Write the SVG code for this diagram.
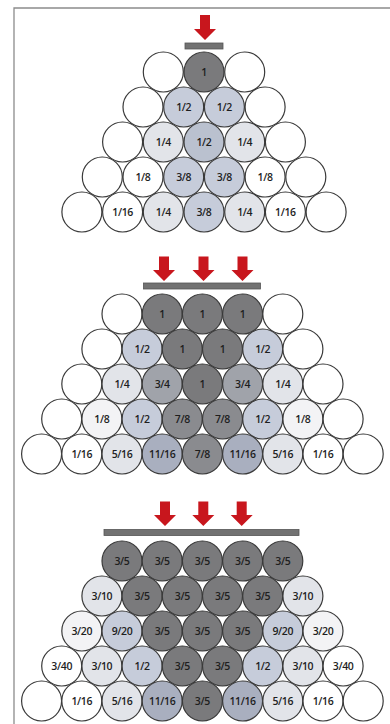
<svg xmlns="http://www.w3.org/2000/svg" width="390" height="724" viewBox="0 0 390 724">
  <style>
    .frame { fill: none; stroke: #8c8c8c; stroke-width: 1.3; }
    .n circle { stroke: #3a3a3a; stroke-width: 1.2; }
    .n text { font-family: "Open Sans", "Liberation Sans", sans-serif; font-weight: 600; font-size: 10.5px; fill: #1e1e1e; text-anchor: middle; letter-spacing: -0.35px; }
    .w { fill: #ffffff; }
    .f1 { fill: #f3f3f5; }
    .f2 { fill: #e2e4e9; }
    .f3 { fill: #c6ccda; }
    .f3b { fill: #bac1cf; }
    .f4 { fill: #a9afbf; }
    .f5 { fill: #a0a3aa; }
    .f6 { fill: #8a8b8f; }
    .f7 { fill: #7a7a7c; }
    .arrow { fill: #c8161d; }
    .bar { fill: #727272; stroke: #555; stroke-width: 0.8; }
  </style>

  <!-- page edge -->
  <path class="frame" d="M14,724 V8 H390"/>

  <!-- ===== Panel 1: single load on the top ball ===== -->
  <g id="load-1">
    <path class="arrow" d="M200,15 h10 v14 h6 l-11,11 l-11,-11 h6 z"/>
    <rect class="bar" x="185" y="43" width="38" height="6"/>
  </g>
  <g id="pile-1">
    <g id="p1-r1-1" class="n"><circle class="w" cx="163.3" cy="72" r="20"/></g>
    <g id="p1-r1-2" class="n"><circle class="f7" cx="204" cy="72" r="20"/><text x="204" y="75.7">1</text></g>
    <g id="p1-r1-3" class="n"><circle class="w" cx="244.7" cy="72" r="20"/></g>

    <g id="p1-r2-1" class="n"><circle class="w" cx="143" cy="107" r="20"/></g>
    <g id="p1-r2-2" class="n"><circle class="f3" cx="183.7" cy="107" r="20"/><text x="183.7" y="110.7">1/2</text></g>
    <g id="p1-r2-3" class="n"><circle class="f3" cx="224.4" cy="107" r="20"/><text x="224.4" y="110.7">1/2</text></g>
    <g id="p1-r2-4" class="n"><circle class="w" cx="265.1" cy="107" r="20"/></g>

    <g id="p1-r3-1" class="n"><circle class="w" cx="122.6" cy="142" r="20"/></g>
    <g id="p1-r3-2" class="n"><circle class="f2" cx="163.3" cy="142" r="20"/><text x="163.3" y="145.7">1/4</text></g>
    <g id="p1-r3-3" class="n"><circle class="f3b" cx="204" cy="142" r="20"/><text x="204" y="145.7">1/2</text></g>
    <g id="p1-r3-4" class="n"><circle class="f2" cx="244.7" cy="142" r="20"/><text x="244.7" y="145.7">1/4</text></g>
    <g id="p1-r3-5" class="n"><circle class="w" cx="285.4" cy="142" r="20"/></g>

    <g id="p1-r4-1" class="n"><circle class="w" cx="102.3" cy="177" r="20"/></g>
    <g id="p1-r4-2" class="n"><circle class="w" cx="143" cy="177" r="20"/><text x="143" y="180.7">1/8</text></g>
    <g id="p1-r4-3" class="n"><circle class="f3" cx="183.7" cy="177" r="20"/><text x="183.7" y="180.7">3/8</text></g>
    <g id="p1-r4-4" class="n"><circle class="f3" cx="224.4" cy="177" r="20"/><text x="224.4" y="180.7">3/8</text></g>
    <g id="p1-r4-5" class="n"><circle class="w" cx="265.1" cy="177" r="20"/><text x="265.1" y="180.7">1/8</text></g>
    <g id="p1-r4-6" class="n"><circle class="w" cx="305.8" cy="177" r="20"/></g>

    <g id="p1-r5-1" class="n"><circle class="w" cx="81.9" cy="212" r="20"/></g>
    <g id="p1-r5-2" class="n"><circle class="w" cx="122.6" cy="212" r="20"/><text x="122.6" y="215.7">1/16</text></g>
    <g id="p1-r5-3" class="n"><circle class="f2" cx="163.3" cy="212" r="20"/><text x="163.3" y="215.7">1/4</text></g>
    <g id="p1-r5-4" class="n"><circle class="f3" cx="204" cy="212" r="20"/><text x="204" y="215.7">3/8</text></g>
    <g id="p1-r5-5" class="n"><circle class="f2" cx="244.7" cy="212" r="20"/><text x="244.7" y="215.7">1/4</text></g>
    <g id="p1-r5-6" class="n"><circle class="w" cx="285.4" cy="212" r="20"/><text x="285.4" y="215.7">1/16</text></g>
    <g id="p1-r5-7" class="n"><circle class="w" cx="326.1" cy="212" r="20"/></g>
  </g>

  <!-- ===== Panel 2: load spread over three balls ===== -->
  <g id="load-2">
    <path class="arrow" d="M159,256.5 h10 v13.5 h6 l-11,11 l-11,-11 h6 z"/>
    <path class="arrow" d="M198.5,256.5 h10 v13.5 h6 l-11,11 l-11,-11 h6 z"/>
    <path class="arrow" d="M237.5,256.5 h10 v13.5 h6 l-11,11 l-11,-11 h6 z"/>
    <rect class="bar" x="143.5" y="283" width="117" height="6"/>
  </g>
  <g id="pile-2">
    <g id="p2-r1-1" class="n"><circle class="w" cx="122" cy="314" r="20"/></g>
    <g id="p2-r1-2" class="n"><circle class="f7" cx="162.2" cy="314" r="20"/><text x="162.2" y="317.7">1</text></g>
    <g id="p2-r1-3" class="n"><circle class="f7" cx="202.4" cy="314" r="20"/><text x="202.4" y="317.7">1</text></g>
    <g id="p2-r1-4" class="n"><circle class="f7" cx="242.6" cy="314" r="20"/><text x="242.6" y="317.7">1</text></g>
    <g id="p2-r1-5" class="n"><circle class="w" cx="282.8" cy="314" r="20"/></g>

    <g id="p2-r2-1" class="n"><circle class="w" cx="101.9" cy="349" r="20"/></g>
    <g id="p2-r2-2" class="n"><circle class="f3" cx="142.1" cy="349" r="20"/><text x="142.1" y="352.7">1/2</text></g>
    <g id="p2-r2-3" class="n"><circle class="f7" cx="182.3" cy="349" r="20"/><text x="182.3" y="352.7">1</text></g>
    <g id="p2-r2-4" class="n"><circle class="f7" cx="222.5" cy="349" r="20"/><text x="222.5" y="352.7">1</text></g>
    <g id="p2-r2-5" class="n"><circle class="f3" cx="262.7" cy="349" r="20"/><text x="262.7" y="352.7">1/2</text></g>
    <g id="p2-r2-6" class="n"><circle class="w" cx="302.9" cy="349" r="20"/></g>

    <g id="p2-r3-1" class="n"><circle class="w" cx="81.8" cy="384" r="20"/></g>
    <g id="p2-r3-2" class="n"><circle class="f2" cx="122" cy="384" r="20"/><text x="122" y="387.7">1/4</text></g>
    <g id="p2-r3-3" class="n"><circle class="f5" cx="162.2" cy="384" r="20"/><text x="162.2" y="387.7">3/4</text></g>
    <g id="p2-r3-4" class="n"><circle class="f7" cx="202.4" cy="384" r="20"/><text x="202.4" y="387.7">1</text></g>
    <g id="p2-r3-5" class="n"><circle class="f5" cx="242.6" cy="384" r="20"/><text x="242.6" y="387.7">3/4</text></g>
    <g id="p2-r3-6" class="n"><circle class="f2" cx="282.8" cy="384" r="20"/><text x="282.8" y="387.7">1/4</text></g>
    <g id="p2-r3-7" class="n"><circle class="w" cx="323" cy="384" r="20"/></g>

    <g id="p2-r4-1" class="n"><circle class="w" cx="61.7" cy="419" r="20"/></g>
    <g id="p2-r4-2" class="n"><circle class="f1" cx="101.9" cy="419" r="20"/><text x="101.9" y="422.7">1/8</text></g>
    <g id="p2-r4-3" class="n"><circle class="f3" cx="142.1" cy="419" r="20"/><text x="142.1" y="422.7">1/2</text></g>
    <g id="p2-r4-4" class="n"><circle class="f6" cx="182.3" cy="419" r="20"/><text x="182.3" y="422.7">7/8</text></g>
    <g id="p2-r4-5" class="n"><circle class="f6" cx="222.5" cy="419" r="20"/><text x="222.5" y="422.7">7/8</text></g>
    <g id="p2-r4-6" class="n"><circle class="f3" cx="262.7" cy="419" r="20"/><text x="262.7" y="422.7">1/2</text></g>
    <g id="p2-r4-7" class="n"><circle class="f1" cx="302.9" cy="419" r="20"/><text x="302.9" y="422.7">1/8</text></g>
    <g id="p2-r4-8" class="n"><circle class="w" cx="343.1" cy="419" r="20"/></g>

    <g id="p2-r5-1" class="n"><circle class="w" cx="41.6" cy="454" r="20"/></g>
    <g id="p2-r5-2" class="n"><circle class="w" cx="81.8" cy="454" r="20"/><text x="81.8" y="457.7">1/16</text></g>
    <g id="p2-r5-3" class="n"><circle class="f2" cx="122" cy="454" r="20"/><text x="122" y="457.7">5/16</text></g>
    <g id="p2-r5-4" class="n"><circle class="f4" cx="162.2" cy="454" r="20"/><text x="162.2" y="457.7">11/16</text></g>
    <g id="p2-r5-5" class="n"><circle class="f6" cx="202.4" cy="454" r="20"/><text x="202.4" y="457.7">7/8</text></g>
    <g id="p2-r5-6" class="n"><circle class="f4" cx="242.6" cy="454" r="20"/><text x="242.6" y="457.7">11/16</text></g>
    <g id="p2-r5-7" class="n"><circle class="f2" cx="282.8" cy="454" r="20"/><text x="282.8" y="457.7">5/16</text></g>
    <g id="p2-r5-8" class="n"><circle class="w" cx="323" cy="454" r="20"/><text x="323" y="457.7">1/16</text></g>
    <g id="p2-r5-9" class="n"><circle class="w" cx="363.2" cy="454" r="20"/></g>
  </g>

  <!-- ===== Panel 3: wide plate over five balls ===== -->
  <g id="load-3">
    <path class="arrow" d="M160,501.5 h10 v13.5 h6 l-11,11 l-11,-11 h6 z"/>
    <path class="arrow" d="M198.3,501.5 h10 v13.5 h6 l-11,11 l-11,-11 h6 z"/>
    <path class="arrow" d="M236.7,501.5 h10 v13.5 h6 l-11,11 l-11,-11 h6 z"/>
    <rect class="bar" x="104" y="529.5" width="195" height="6"/>
  </g>
  <g id="pile-3">
    <g id="p3-r1-1" class="n"><circle class="f7" cx="122" cy="561" r="20"/><text x="122" y="564.7">3/5</text></g>
    <g id="p3-r1-2" class="n"><circle class="f7" cx="162.2" cy="561" r="20"/><text x="162.2" y="564.7">3/5</text></g>
    <g id="p3-r1-3" class="n"><circle class="f7" cx="202.4" cy="561" r="20"/><text x="202.4" y="564.7">3/5</text></g>
    <g id="p3-r1-4" class="n"><circle class="f7" cx="242.6" cy="561" r="20"/><text x="242.6" y="564.7">3/5</text></g>
    <g id="p3-r1-5" class="n"><circle class="f7" cx="282.8" cy="561" r="20"/><text x="282.8" y="564.7">3/5</text></g>

    <g id="p3-r2-1" class="n"><circle class="f2" cx="101.9" cy="596" r="20"/><text x="101.9" y="599.7">3/10</text></g>
    <g id="p3-r2-2" class="n"><circle class="f7" cx="142.1" cy="596" r="20"/><text x="142.1" y="599.7">3/5</text></g>
    <g id="p3-r2-3" class="n"><circle class="f7" cx="182.3" cy="596" r="20"/><text x="182.3" y="599.7">3/5</text></g>
    <g id="p3-r2-4" class="n"><circle class="f7" cx="222.5" cy="596" r="20"/><text x="222.5" y="599.7">3/5</text></g>
    <g id="p3-r2-5" class="n"><circle class="f7" cx="262.7" cy="596" r="20"/><text x="262.7" y="599.7">3/5</text></g>
    <g id="p3-r2-6" class="n"><circle class="f2" cx="302.9" cy="596" r="20"/><text x="302.9" y="599.7">3/10</text></g>

    <g id="p3-r3-1" class="n"><circle class="f1" cx="81.8" cy="631" r="20"/><text x="81.8" y="634.7">3/20</text></g>
    <g id="p3-r3-2" class="n"><circle class="f3" cx="122" cy="631" r="20"/><text x="122" y="634.7">9/20</text></g>
    <g id="p3-r3-3" class="n"><circle class="f7" cx="162.2" cy="631" r="20"/><text x="162.2" y="634.7">3/5</text></g>
    <g id="p3-r3-4" class="n"><circle class="f7" cx="202.4" cy="631" r="20"/><text x="202.4" y="634.7">3/5</text></g>
    <g id="p3-r3-5" class="n"><circle class="f7" cx="242.6" cy="631" r="20"/><text x="242.6" y="634.7">3/5</text></g>
    <g id="p3-r3-6" class="n"><circle class="f3" cx="282.8" cy="631" r="20"/><text x="282.8" y="634.7">9/20</text></g>
    <g id="p3-r3-7" class="n"><circle class="f1" cx="323" cy="631" r="20"/><text x="323" y="634.7">3/20</text></g>

    <g id="p3-r4-1" class="n"><circle class="w" cx="61.7" cy="666" r="20"/><text x="61.7" y="669.7">3/40</text></g>
    <g id="p3-r4-2" class="n"><circle class="f2" cx="101.9" cy="666" r="20"/><text x="101.9" y="669.7">3/10</text></g>
    <g id="p3-r4-3" class="n"><circle class="f3" cx="142.1" cy="666" r="20"/><text x="142.1" y="669.7">1/2</text></g>
    <g id="p3-r4-4" class="n"><circle class="f7" cx="182.3" cy="666" r="20"/><text x="182.3" y="669.7">3/5</text></g>
    <g id="p3-r4-5" class="n"><circle class="f7" cx="222.5" cy="666" r="20"/><text x="222.5" y="669.7">3/5</text></g>
    <g id="p3-r4-6" class="n"><circle class="f3" cx="262.7" cy="666" r="20"/><text x="262.7" y="669.7">1/2</text></g>
    <g id="p3-r4-7" class="n"><circle class="f2" cx="302.9" cy="666" r="20"/><text x="302.9" y="669.7">3/10</text></g>
    <g id="p3-r4-8" class="n"><circle class="w" cx="343.1" cy="666" r="20"/><text x="343.1" y="669.7">3/40</text></g>

    <g id="p3-r5-1" class="n"><circle class="w" cx="41.6" cy="701" r="20"/></g>
    <g id="p3-r5-2" class="n"><circle class="w" cx="81.8" cy="701" r="20"/><text x="81.8" y="704.7">1/16</text></g>
    <g id="p3-r5-3" class="n"><circle class="f2" cx="122" cy="701" r="20"/><text x="122" y="704.7">5/16</text></g>
    <g id="p3-r5-4" class="n"><circle class="f4" cx="162.2" cy="701" r="20"/><text x="162.2" y="704.7">11/16</text></g>
    <g id="p3-r5-5" class="n"><circle class="f7" cx="202.4" cy="701" r="20"/><text x="202.4" y="704.7">3/5</text></g>
    <g id="p3-r5-6" class="n"><circle class="f4" cx="242.6" cy="701" r="20"/><text x="242.6" y="704.7">11/16</text></g>
    <g id="p3-r5-7" class="n"><circle class="f2" cx="282.8" cy="701" r="20"/><text x="282.8" y="704.7">5/16</text></g>
    <g id="p3-r5-8" class="n"><circle class="w" cx="323" cy="701" r="20"/><text x="323" y="704.7">1/16</text></g>
    <g id="p3-r5-9" class="n"><circle class="w" cx="363.2" cy="701" r="20"/></g>
  </g>
</svg>
